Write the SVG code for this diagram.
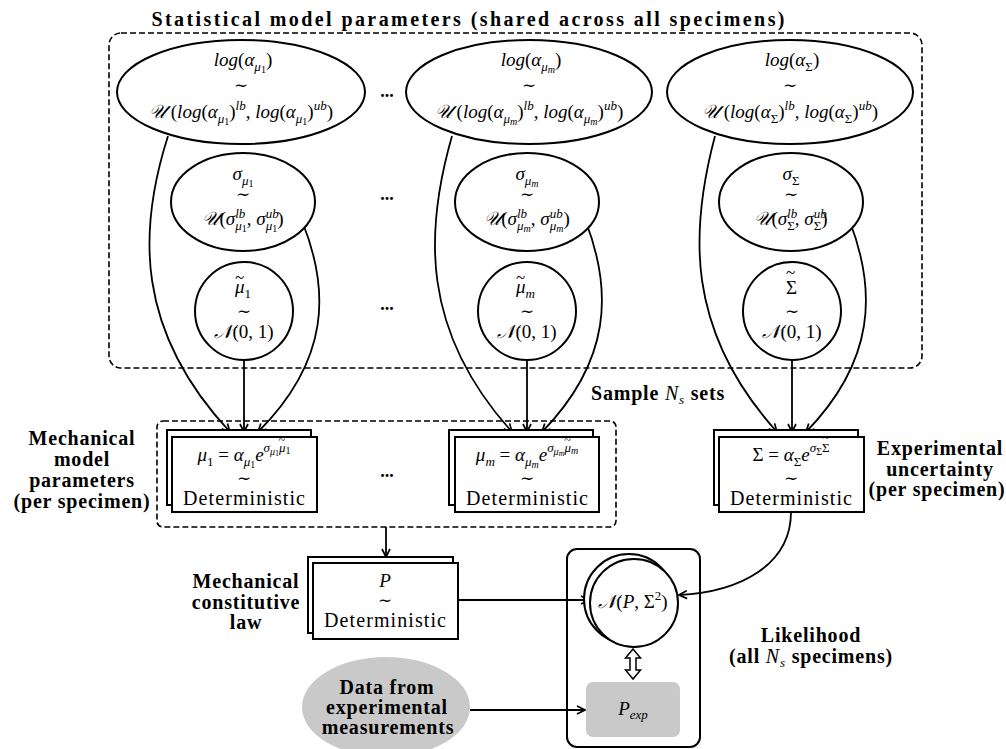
<svg xmlns="http://www.w3.org/2000/svg" width="1006" height="749" viewBox="0 0 1006 749">
<style>
text{font-family:"Liberation Serif","DejaVu Serif",serif;fill:#000}
.m{font-size:19px;text-anchor:middle}
.ms{font-size:19px}
.i{font-style:italic}
.s1{font-size:13px}
.s2{font-size:10px}
.s3{font-size:8px}
.acc{font-size:17px;font-style:normal}
.acc2{font-size:12px;font-style:normal}
.sim{font-family:"DejaVu Serif",serif;font-size:17px;text-anchor:middle}
.b{font-weight:bold;font-size:20px;text-anchor:middle;letter-spacing:0.8px}
.n{font-weight:normal}
.det{font-size:20px;text-anchor:middle}
.dots{font-weight:bold;font-size:18px;text-anchor:middle}
.node{fill:#fff;stroke:#000;stroke-width:2}
.dash{fill:none;stroke:#000;stroke-width:1.6;stroke-dasharray:6,3}
.edge{fill:none;stroke:#000;stroke-width:1.8;marker-end:url(#ah)}
.gray{fill:#c9c9c9;stroke:none}
</style>
<defs>
<marker id="ah" viewBox="0 0 10 10" refX="9" refY="5" markerWidth="10" markerHeight="10" orient="auto" markerUnits="userSpaceOnUse">
<path d="M1,1 L9,5 L1,9" fill="none" stroke="#000" stroke-width="1.7"/>
</marker>
</defs>

<text class="b" x="468" y="26" style="letter-spacing:0" textLength="633" lengthAdjust="spacing">Statistical model parameters (shared across all specimens)</text>
<rect id="stat-plate" class="dash" x="109" y="33" width="813" height="335" rx="12"/>
<rect id="mech-plate" class="dash" x="157" y="421" width="459" height="106" rx="6"/>

<g id="connectors">
<path class="edge" d="M168,136 C138,230 135,330 230,432"/>
<path class="edge" d="M302,221 C330,290 330,360 258,432"/>
<path class="edge" d="M244,360 L244,432"/>
<path class="edge" d="M452,136 C425,230 420,330 512,432"/>
<path class="edge" d="M586,222 C612,290 612,360 542,432"/>
<path class="edge" d="M527,360 L527,432"/>
<path class="edge" d="M715,136 C690,230 685,330 777,432"/>
<path class="edge" d="M850,222 C876,290 876,360 806,432"/>
<path class="edge" d="M792,360 L792,432"/>
<path class="edge" d="M386,527 L386,557"/>
<path class="edge" d="M458,600 L589,600"/>
<path class="edge" d="M791,512 C791,565 740,592 679,595"/>
<path class="edge" d="M470,710 L585,710"/>
<polygon points="633,649 640.5,658 636,658 636,670 640.5,670 633,679 625.5,670 630,670 630,658 625.5,658" fill="#fff" stroke="#000" stroke-width="1.5"/>
</g>

<g id="log-alpha-mu1">
<ellipse class="node" cx="241" cy="92" rx="124" ry="52"/>
<text class="m" x="243" y="66"><tspan class="i">log</tspan>(<tspan class="i">α</tspan><tspan class="i s1" dy="5">μ</tspan><tspan class="s2" dy="2">1</tspan><tspan dy="-7">)</tspan></text>
<text class="sim" x="241" y="91">∼</text>
<text class="m" x="241" y="118"><tspan class="i">𝒰</tspan> (<tspan class="i">log</tspan>(<tspan class="i">α</tspan><tspan class="i s1" dy="5">μ</tspan><tspan class="s2" dy="2">1</tspan><tspan dy="-7">)</tspan><tspan class="i s1" dy="-8">lb</tspan><tspan dy="8">, </tspan><tspan class="i">log</tspan>(<tspan class="i">α</tspan><tspan class="i s1" dy="5">μ</tspan><tspan class="s2" dy="2">1</tspan><tspan dy="-7">)</tspan><tspan class="i s1" dy="-8">ub</tspan><tspan dy="8">)</tspan></text>
</g>
<text class="dots" x="387" y="97">...</text>
<g id="log-alpha-mum">
<ellipse class="node" cx="529" cy="92" rx="123" ry="52"/>
<text class="m" x="531" y="66"><tspan class="i">log</tspan>(<tspan class="i">α</tspan><tspan class="i s1" dy="5">μ</tspan><tspan class="i s2" dy="2">m</tspan><tspan dy="-7">)</tspan></text>
<text class="sim" x="529" y="91">∼</text>
<text class="m" x="529" y="118"><tspan class="i">𝒰</tspan> (<tspan class="i">log</tspan>(<tspan class="i">α</tspan><tspan class="i s1" dy="5">μ</tspan><tspan class="i s2" dy="2">m</tspan><tspan dy="-7">)</tspan><tspan class="i s1" dy="-8">lb</tspan><tspan dy="8">, </tspan><tspan class="i">log</tspan>(<tspan class="i">α</tspan><tspan class="i s1" dy="5">μ</tspan><tspan class="i s2" dy="2">m</tspan><tspan dy="-7">)</tspan><tspan class="i s1" dy="-8">ub</tspan><tspan dy="8">)</tspan></text>
</g>
<g id="log-alpha-sigma">
<ellipse class="node" cx="790" cy="92" rx="123" ry="52"/>
<text class="m" x="792" y="66"><tspan class="i">log</tspan>(<tspan class="i">α</tspan><tspan class="s1" dy="5">Σ</tspan><tspan dy="-5">)</tspan></text>
<text class="sim" x="790" y="91">∼</text>
<text class="m" x="790" y="118"><tspan class="i">𝒰</tspan> (<tspan class="i">log</tspan>(<tspan class="i">α</tspan><tspan class="s1" dy="5">Σ</tspan><tspan dy="-5">)</tspan><tspan class="i s1" dy="-8">lb</tspan><tspan dy="8">, </tspan><tspan class="i">log</tspan>(<tspan class="i">α</tspan><tspan class="s1" dy="5">Σ</tspan><tspan dy="-5">)</tspan><tspan class="i s1" dy="-8">ub</tspan><tspan dy="8">)</tspan></text>
</g>

<g id="sigma-mu1">
<ellipse class="node" cx="243" cy="202" rx="72" ry="49"/>
<text class="m" x="243" y="180"><tspan class="i">σ</tspan><tspan class="i s1" dy="5">μ</tspan><tspan class="s2" dy="2">1</tspan></text>
<text class="sim" x="243" y="200">∼</text>
<text class="m" x="243" y="225"><tspan class="i">𝒰</tspan>(<tspan class="i">σ</tspan><tspan class="i s1" dy="-7">lb</tspan><tspan class="i s1" dx="-10" dy="12">μ</tspan><tspan class="s2" dy="2">1</tspan><tspan dy="-7">, </tspan><tspan class="i">σ</tspan><tspan class="i s1" dy="-7">ub</tspan><tspan class="i s1" dx="-13" dy="12">μ</tspan><tspan class="s2" dy="2">1</tspan><tspan dy="-7">)</tspan></text>
</g>
<text class="dots" x="387" y="200">...</text>
<g id="sigma-mum">
<ellipse class="node" cx="527" cy="202" rx="72" ry="49"/>
<text class="m" x="527" y="180"><tspan class="i">σ</tspan><tspan class="i s1" dy="5">μ</tspan><tspan class="i s2" dy="2">m</tspan></text>
<text class="sim" x="527" y="200">∼</text>
<text class="m" x="527" y="225"><tspan class="i">𝒰</tspan>(<tspan class="i">σ</tspan><tspan class="i s1" dy="-7">lb</tspan><tspan class="i s1" dx="-10" dy="12">μ</tspan><tspan class="i s2" dy="2">m</tspan><tspan dy="-7">, </tspan><tspan class="i">σ</tspan><tspan class="i s1" dy="-7">ub</tspan><tspan class="i s1" dx="-13" dy="12">μ</tspan><tspan class="i s2" dy="2">m</tspan><tspan dy="-7">)</tspan></text>
</g>
<g id="sigma-sigma">
<ellipse class="node" cx="791" cy="202" rx="72" ry="49"/>
<text class="m" x="791" y="180"><tspan class="i">σ</tspan><tspan class="s1" dy="5">Σ</tspan></text>
<text class="sim" x="791" y="200">∼</text>
<text class="m" x="791" y="225"><tspan class="i">𝒰</tspan>(<tspan class="i">σ</tspan><tspan class="i s1" dy="-7">lb</tspan><tspan class="s1" dx="-10" dy="12">Σ</tspan><tspan dy="-5">, </tspan><tspan class="i">σ</tspan><tspan class="i s1" dy="-7">ub</tspan><tspan class="s1" dx="-13" dy="12">Σ</tspan><tspan dy="-5">)</tspan></text>
</g>

<g id="mu1-tilde">
<circle class="node" cx="244" cy="311" r="49"/>
<text class="ms" x="235" y="293"><tspan class="i">μ</tspan><tspan class="s1" dy="5">1</tspan><tspan class="acc" dx="-16" dy="-15">~</tspan></text>
<text class="sim" x="244" y="317">∼</text>
<text class="m" x="244" y="338"><tspan class="i">𝒩</tspan>(0, 1)</text>
</g>
<text class="dots" x="387" y="310">...</text>
<g id="mum-tilde">
<circle class="node" cx="527" cy="311" r="49"/>
<text class="ms" x="516" y="293"><tspan class="i">μ</tspan><tspan class="i s1" dy="5">m</tspan><tspan class="acc" dx="-19" dy="-15">~</tspan></text>
<text class="sim" x="527" y="317">∼</text>
<text class="m" x="527" y="338"><tspan class="i">𝒩</tspan>(0, 1)</text>
</g>
<g id="sigma-tilde">
<circle class="node" cx="792" cy="311" r="49"/>
<text class="ms" x="786" y="294">Σ<tspan class="acc" dx="-11" dy="-16">~</tspan></text>
<text class="sim" x="792" y="317">∼</text>
<text class="m" x="792" y="338"><tspan class="i">𝒩</tspan>(0, 1)</text>
</g>

<text class="b" x="658" y="400"><tspan>Sample </tspan><tspan class="i n">N</tspan><tspan class="i n s1" dy="4">s</tspan><tspan dy="-4"> sets</tspan></text>

<g id="mu1-det">
<rect class="node" x="167" y="430" width="144" height="75"/>
<rect class="node" x="172" y="437" width="145" height="75"/>
<text class="m" x="244" y="461"><tspan class="i">μ</tspan><tspan class="s1" dy="5">1</tspan><tspan dy="-5"> = </tspan><tspan class="i">α</tspan><tspan class="i s1" dy="5">μ</tspan><tspan class="s2" dy="2">1</tspan><tspan class="i" dy="-7">e</tspan><tspan class="i s1" dy="-9">σ</tspan><tspan class="i s2" dy="3">μ</tspan><tspan class="s3" dy="1">1</tspan><tspan class="i s1" dy="-4">μ</tspan><tspan class="s2" dy="2">1</tspan><tspan class="acc2" dx="-12" dy="-10">~</tspan></text>
<text class="sim" x="244" y="484">∼</text>
<text class="det" x="244" y="505" textLength="122" lengthAdjust="spacing">Deterministic</text>
</g>
<text class="dots" x="387" y="477">...</text>
<g id="mum-det">
<rect class="node" x="449" y="430" width="144" height="75"/>
<rect class="node" x="455" y="437" width="144" height="75"/>
<text class="m" x="527" y="461"><tspan class="i">μ</tspan><tspan class="i s1" dy="5">m</tspan><tspan dy="-5"> = </tspan><tspan class="i">α</tspan><tspan class="i s1" dy="5">μ</tspan><tspan class="i s2" dy="2">m</tspan><tspan class="i" dy="-7">e</tspan><tspan class="i s1" dy="-9">σ</tspan><tspan class="i s2" dy="3">μ</tspan><tspan class="i s3" dy="1">m</tspan><tspan class="i s1" dy="-4">μ</tspan><tspan class="i s2" dy="2">m</tspan><tspan class="acc2" dx="-14" dy="-10">~</tspan></text>
<text class="sim" x="527" y="484">∼</text>
<text class="det" x="527" y="505" textLength="122" lengthAdjust="spacing">Deterministic</text>
</g>
<g id="sigma-det">
<rect class="node" x="714" y="430" width="144" height="75"/>
<rect class="node" x="719" y="437" width="145" height="75"/>
<text class="m" x="791" y="461">Σ = <tspan class="i">α</tspan><tspan class="s1" dy="5">Σ</tspan><tspan class="i" dy="-5">e</tspan><tspan class="i s1" dy="-9">σ</tspan><tspan class="s2" dy="3">Σ</tspan><tspan class="s1" dy="-3">Σ</tspan><tspan class="acc2" dx="-7" dy="-10">~</tspan></text>
<text class="sim" x="791" y="484">∼</text>
<text class="det" x="791" y="505" textLength="122" lengthAdjust="spacing">Deterministic</text>
</g>

<g id="label-mech-params">
<text class="b" x="82" y="445">Mechanical</text>
<text class="b" x="82" y="466">model</text>
<text class="b" x="82" y="487">parameters</text>
<text class="b" x="82" y="508">(per specimen)</text>
</g>
<g id="label-exp-unc">
<text class="b" x="940" y="455">Experimental</text>
<text class="b" x="940" y="476">uncertainty</text>
<text class="b" x="937" y="496">(per specimen)</text>
</g>

<g id="p-det">
<rect class="node" x="308" y="557" width="145" height="76"/>
<rect class="node" x="313" y="563" width="145" height="76"/>
<text class="m" x="385" y="587"><tspan class="i">P</tspan></text>
<text class="sim" x="385" y="606">∼</text>
<text class="det" x="385" y="627" textLength="122" lengthAdjust="spacing">Deterministic</text>
</g>
<g id="label-const-law">
<text class="b" x="246" y="588">Mechanical</text>
<text class="b" x="246" y="609">constitutive</text>
<text class="b" x="246" y="629">law</text>
</g>

<g id="likelihood">
<rect x="567" y="549" width="133" height="198" rx="10" fill="none" stroke="#000" stroke-width="2"/>
<circle class="node" cx="629" cy="599" r="45"/>
<circle class="node" cx="634" cy="603" r="44"/>
<text class="m" x="633" y="608"><tspan class="i">𝒩</tspan>(<tspan class="i">P</tspan>, Σ<tspan class="s1" dy="-8">2</tspan><tspan dy="8">)</tspan></text>
</g>
<g id="label-likelihood">
<text class="b" x="811" y="642">Likelihood</text>
<text class="b" x="811" y="663"><tspan>(all </tspan><tspan class="i n">N</tspan><tspan class="i n s1" dy="4">s</tspan><tspan dy="-4"> specimens)</tspan></text>
</g>

<g id="p-exp">
<rect class="gray" x="586" y="682" width="94" height="55" rx="7"/>
<text class="m" x="633" y="715"><tspan class="i">P</tspan><tspan class="i s1" dy="4">exp</tspan></text>
</g>
<g id="data">
<ellipse class="gray" cx="386" cy="707" rx="84" ry="50"/>
<text class="b" x="387" y="694">Data from</text>
<text class="b" x="387" y="714">experimental</text>
<text class="b" x="388" y="734">measurements</text>
</g>
</svg>
